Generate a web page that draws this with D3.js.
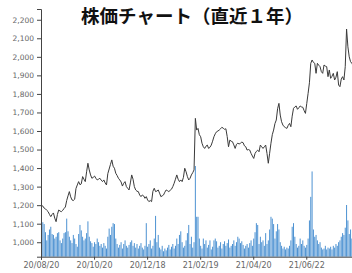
<!DOCTYPE html>
<html>
<head>
<meta charset="utf-8">
<script src="https://cdn.jsdelivr.net/npm/d3@7"></script>
<style>
  html, body { margin: 0; padding: 0; background: #fff; overflow: hidden; }
  .axis text { font-family: "DejaVu Sans", sans-serif; font-size: 7.5px; fill: #666; }
  .axis path, .axis line { stroke: #444; }
</style>
</head>
<body>
<div id="chart"></div>
<script>
// 終値（円）
const closes = [
  1200,1195,1184,1180,1172,1165,1150,1138,1150,1158,1130,1111,1150,1174,1168,1165,1172,1182,1190,1225,
  1250,1273,1245,1228,1225,1232,1290,1309,1327,1310,1315,1354,1340,1327,1380,1426,1390,1363,1345,1350,
  1357,1345,1336,1340,1345,1335,1327,1336,1320,1309,1370,1395,1420,1444,1410,1399,1372,1360,1345,1336,
  1325,1303,1318,1327,1300,1291,1282,1320,1363,1340,1300,1282,1275,1273,1255,1246,1255,1250,1237,1246,
  1228,1219,1225,1219,1275,1291,1273,1276,1282,1265,1246,1250,1255,1270,1282,1278,1273,1280,1286,1300,
  1318,1340,1363,1340,1327,1336,1327,1350,1399,1380,1354,1336,1345,1363,1375,1390,1668,1605,1614,1580,
  1569,1534,1515,1506,1518,1524,1506,1512,1524,1545,1569,1585,1596,1600,1605,1612,1620,1615,1609,1612,
  1570,1515,1551,1545,1542,1525,1506,1528,1534,1530,1534,1540,1537,1520,1515,1497,1500,1497,1479,1465,
  1452,1479,1490,1497,1488,1524,1515,1506,1515,1524,1479,1426,1480,1534,1580,1605,1640,1659,1720,1749,
  1686,1650,1632,1623,1618,1614,1630,1641,1623,1680,1722,1730,1735,1717,1725,1735,1730,1728,1710,1695,
  1749,1803,1860,1965,1983,1970,1965,1911,1965,1955,1947,1920,1911,1956,1950,1947,1893,1929,1884,1895,
  1911,1875,1890,1920,1848,1839,1880,1893,1875,1947,2150,2054,2000,1974,1965,1950,1955
];

// 出来高（相対値）
const volumes = [
  40,38,36,27,18,24,30,33,25,24,20,22,26,27,18,15,20,26,27,42,
  28,22,18,15,24,20,14,11,25,35,29,22,18,20,26,39,22,17,15,11,
  16,14,20,16,12,14,10,15,12,9,22,31,24,33,37,36,20,14,10,13,
  16,9,14,18,12,10,13,16,18,12,15,10,14,9,12,15,10,8,12,37,
  11,14,18,9,12,20,45,16,24,10,8,12,6,9,7,10,13,8,11,14,
  9,12,20,14,24,28,16,10,12,18,26,35,14,22,10,16,100,44,44,20,
  12,9,20,14,18,10,13,18,8,11,18,20,17,10,12,16,9,14,17,12,
  15,19,10,12,14,18,12,16,22,20,15,17,13,9,12,14,10,15,18,12,
  20,27,37,35,14,22,16,18,12,26,14,18,30,44,42,36,20,28,36,30,
  16,12,9,11,8,10,9,12,18,33,37,22,14,10,12,20,14,18,12,10,
  13,20,40,66,94,30,22,24,18,14,16,10,8,9,12,8,10,9,11,8,
  12,10,14,12,16,18,22,26,24,32,57,40,25,30,20,16,14
];

// 目盛りラベル（40営業日ごと）
const tickIdx = [0, 40, 80, 120, 160, 200];
const tickLabels = ["20/08/20", "20/10/20", "20/12/18", "21/02/19", "21/04/20", "21/06/22"];

const width = 352, height = 273;
const marginLeft = 41, plotBottom = 256.7, plotTop = 9;
const step = 1.325;

const svg = d3.select("#chart")
  .append("svg")
  .attr("width", width)
  .attr("height", height);

const x = d3.scaleBand()
  .domain(d3.range(closes.length))
  .range([marginLeft, marginLeft + closes.length * step])
  .paddingInner(0.25)
  .paddingOuter(0);

const y = d3.scaleLinear()
  .domain([922, 2258])
  .range([plotBottom, plotTop]);

const yVol = d3.scaleLinear()
  .domain([0, 100])
  .range([plotBottom, 166]);

// 出来高バー
svg.append("g")
  .selectAll("rect")
  .data(volumes)
  .join("rect")
  .attr("x", (d, i) => x(i))
  .attr("y", d => yVol(d))
  .attr("width", x.bandwidth())
  .attr("height", d => plotBottom - yVol(d))
  .attr("fill", "#4d92d2");

// 株価ライン
const line = d3.line()
  .x((d, i) => x(i) + x.bandwidth() / 2)
  .y(d => y(d));

svg.append("path")
  .datum(closes)
  .attr("fill", "none")
  .attr("stroke", "#3a3a3a")
  .attr("stroke-width", 1)
  .attr("stroke-linejoin", "round")
  .attr("d", line);

// 軸
svg.append("g")
  .attr("class", "axis")
  .attr("transform", `translate(${marginLeft},0)`)
  .call(d3.axisLeft(y).tickValues(d3.range(1000, 2201, 100)).tickFormat(d3.format(",")).tickSize(4));

svg.append("g")
  .attr("class", "axis")
  .attr("transform", `translate(0,${plotBottom})`)
  .call(d3.axisBottom(x).tickValues(tickIdx).tickFormat((d, i) => tickLabels[i]).tickSize(3))
  .selectAll("text")
  .style("font-size", "8px");

// タイトル
svg.append("text")
  .attr("x", 192)
  .attr("y", 23)
  .attr("text-anchor", "middle")
  .style("font-family", "'Noto Sans CJK JP', sans-serif")
  .style("font-weight", "bold")
  .style("font-size", "18.5px")
  .attr("fill", "#111")
  .text("株価チャート（直近１年）");
</script>
</body>
</html>
